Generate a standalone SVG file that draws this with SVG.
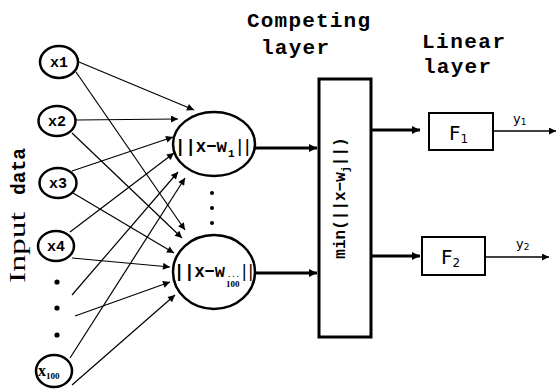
<svg xmlns="http://www.w3.org/2000/svg" width="556" height="389" viewBox="0 0 556 389">
<defs>
<marker id="ah" viewBox="0 0 10 10" refX="10" refY="5" markerWidth="9" markerHeight="7" markerUnits="userSpaceOnUse" orient="auto">
<path d="M0,0 L10,5 L0,10 z" fill="#000"/>
</marker>
<marker id="ahb" viewBox="0 0 10 10" refX="10" refY="5" markerWidth="10" markerHeight="8" markerUnits="userSpaceOnUse" orient="auto">
<path d="M0,0 L10,5 L0,10 z" fill="#000"/>
</marker>
</defs>
<style>
.node{fill:#fff;stroke:#000;stroke-width:2.5}
.box{fill:#fff;stroke:#000;stroke-width:2}
.thin{stroke:#000;stroke-width:1.2;fill:none}
.thick{stroke:#000;stroke-width:2.8;fill:none}
.out{stroke:#000;stroke-width:1.4;fill:none}
.mono{font-family:"Liberation Mono","Courier New",monospace;font-weight:bold;fill:#000}
.serif{font-family:"Liberation Serif","Times New Roman",serif;fill:#000}
.sans{font-family:"DejaVu Sans","Liberation Sans",sans-serif;fill:#000}
.dot{fill:#000}
</style>
<rect width="556" height="389" fill="#fff"/>

<g id="labels">
<text class="serif" transform="translate(25,283) rotate(-90)" font-size="24" fill="#111827" textLength="71" lengthAdjust="spacingAndGlyphs">Input</text>
<text class="mono" transform="translate(25,195) rotate(-90)" font-size="21" textLength="47" lengthAdjust="spacingAndGlyphs">data</text>
<text class="mono" x="247" y="27" font-size="21" textLength="123" lengthAdjust="spacing">Competing</text>
<text class="mono" x="261" y="54" font-size="21" textLength="68" lengthAdjust="spacing">layer</text>
<text class="mono" x="422" y="48" font-size="21" textLength="83" lengthAdjust="spacing">Linear</text>
<text class="mono" x="423" y="73" font-size="21" textLength="68" lengthAdjust="spacing">layer</text>
</g>

<g id="connectors">
<line class="thin" x1="79" y1="62" x2="194" y2="110" marker-end="url(#ah)"/>
<line class="thin" x1="76" y1="72" x2="185" y2="230" marker-end="url(#ah)"/>
<line class="thin" x1="76" y1="120" x2="178" y2="119" marker-end="url(#ah)"/>
<line class="thin" x1="72" y1="133" x2="182" y2="238" marker-end="url(#ah)"/>
<line class="thin" x1="72" y1="171" x2="173" y2="137" marker-end="url(#ah)"/>
<line class="thin" x1="73" y1="193" x2="174" y2="253" marker-end="url(#ah)"/>
<line class="thin" x1="70" y1="232" x2="174" y2="153" marker-end="url(#ah)"/>
<line class="thin" x1="72" y1="258" x2="170" y2="267" marker-end="url(#ah)"/>
<line class="thin" x1="72" y1="295" x2="178" y2="172" marker-end="url(#ah)"/>
<line class="thin" x1="75" y1="316" x2="170" y2="282" marker-end="url(#ah)"/>
<line class="thin" x1="70" y1="358" x2="185" y2="178" marker-end="url(#ah)"/>
<line class="thin" x1="72" y1="385" x2="175" y2="295" marker-end="url(#ah)"/>
<line class="thick" x1="255" y1="148" x2="317" y2="148" marker-end="url(#ahb)"/>
<line class="thick" x1="255" y1="273" x2="317" y2="273" marker-end="url(#ahb)"/>
<line class="thick" x1="372" y1="130" x2="420" y2="130" marker-end="url(#ahb)"/>
<line class="thick" x1="372" y1="256" x2="420" y2="256" marker-end="url(#ahb)"/>
<line class="out" x1="493" y1="131" x2="556" y2="131" marker-end="url(#ah)"/>
<line class="out" x1="485" y1="257" x2="549" y2="257" marker-end="url(#ah)"/>
</g>

<g id="x1"><ellipse class="node" cx="59" cy="62" rx="19" ry="16"/><text class="mono" x="59" y="67" font-size="15" text-anchor="middle">x1</text></g>
<g id="x2"><ellipse class="node" cx="57" cy="121" rx="18.5" ry="15"/><text class="mono" x="57" y="126" font-size="15" text-anchor="middle">x2</text></g>
<g id="x3"><ellipse class="node" cx="58" cy="183" rx="18.5" ry="15"/><text class="mono" x="58" y="188" font-size="15" text-anchor="middle">x3</text></g>
<g id="x4"><ellipse class="node" cx="56" cy="246" rx="18" ry="15"/><text class="mono" x="56" y="251" font-size="15" text-anchor="middle">x4</text></g>
<g id="dots-in"><circle class="dot" cx="57" cy="282" r="2.6"/><circle class="dot" cx="57" cy="308" r="2.6"/><circle class="dot" cx="57" cy="335" r="2.6"/></g>
<g id="x100"><ellipse class="node" cx="54" cy="371" rx="18" ry="16"/><text class="serif" x="38" y="376" font-size="16" font-weight="bold">x<tspan font-size="9" dy="3">100</tspan></text></g>

<g id="h1"><ellipse class="node" cx="214" cy="144" rx="41" ry="32"/>
<text class="mono" x="175" y="152" font-size="18" textLength="52" lengthAdjust="spacingAndGlyphs">||x−w</text>
<text class="mono" x="228" y="157" font-size="11">1</text>
<text class="mono" x="236" y="152" font-size="18" textLength="15" lengthAdjust="spacingAndGlyphs">||</text>
</g>
<g id="dots-h"><circle class="dot" cx="212" cy="193" r="2"/><circle class="dot" cx="212" cy="208" r="2"/><circle class="dot" cx="212" cy="223" r="2"/></g>
<g id="h2"><ellipse class="node" cx="214" cy="272" rx="41" ry="37"/>
<text class="mono" x="174" y="277" font-size="18" textLength="51" lengthAdjust="spacingAndGlyphs">||x−w</text>
<text class="mono" x="227" y="277" font-size="7">...</text>
<text class="serif" x="226" y="287" font-size="9" font-weight="bold">100</text>
<text class="mono" x="241" y="277" font-size="18" textLength="13" lengthAdjust="spacingAndGlyphs">||</text>
</g>

<g id="competing"><rect x="319" y="79" width="52" height="258" fill="#fff" stroke="#000" stroke-width="3"/>
<text class="mono" transform="translate(345,198) rotate(-90)" font-size="16" text-anchor="middle">min(||x−w<tspan font-size="10" dy="4">j</tspan><tspan dy="-4">||)</tspan></text></g>

<g id="F1"><rect class="box" x="429" y="113" width="64" height="37"/><text class="sans" x="449" y="140" font-size="20">F<tspan font-size="12" dy="3">1</tspan></text></g>
<g id="F2"><rect class="box" x="422" y="237" width="63" height="38"/><text class="sans" x="441" y="264" font-size="20">F<tspan font-size="12" dy="3">2</tspan></text></g>
<text class="sans" x="513" y="123" font-size="13">y<tspan font-size="9" dy="2">1</tspan></text>
<text class="sans" x="516" y="248" font-size="13">y<tspan font-size="9" dy="2">2</tspan></text>
</svg>
